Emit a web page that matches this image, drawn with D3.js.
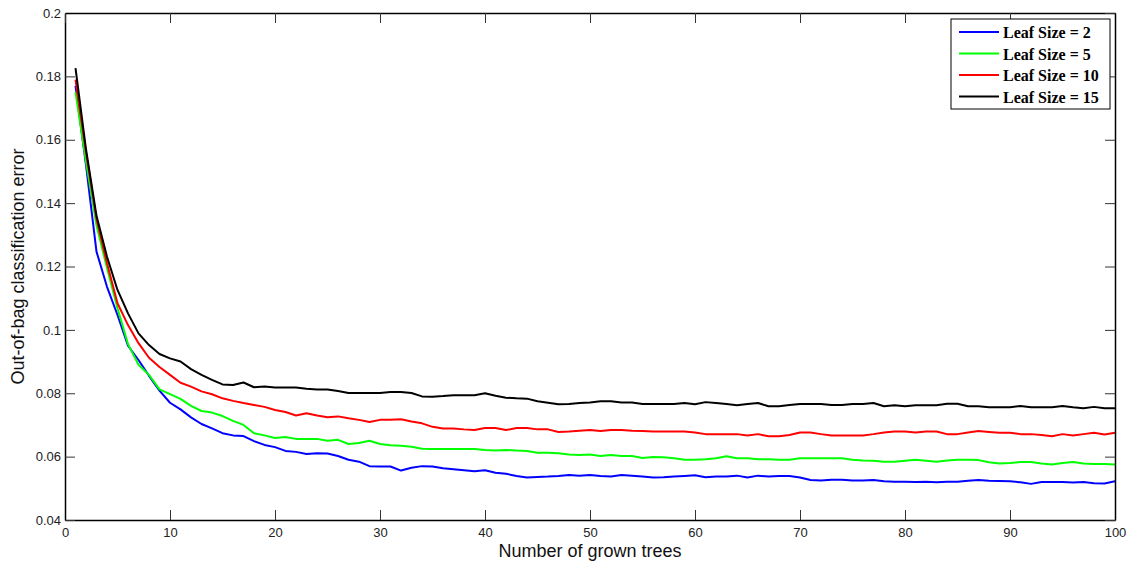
<!DOCTYPE html>
<html>
<head>
<meta charset="utf-8">
<title>Out-of-bag classification error</title>
<script src="https://d3js.org/d3.v7.min.js"></script>
<style>
  body { margin: 0; background: #fff; }
  .tick text { font-family: Arial, "Liberation Sans", sans-serif; font-size: 13px; fill: #222; }
  .axis-label { font-family: Arial, "Liberation Sans", sans-serif; font-size: 18px; fill: #111; }
  .legend text { font-family: "Times New Roman", "Liberation Serif", serif; font-size: 16px; font-weight: bold; }
</style>
</head>
<body>
<svg id="chart"></svg>
<script>
// number of grown trees (x positions)
let trees = d3.range(1, 101);

let leaf2 = [0.177, 0.152, 0.1247, 0.1136, 0.1047, 0.0950, 0.0905, 0.0855, 0.0808, 0.0770,
  0.0749, 0.0724, 0.0703, 0.0689, 0.0674, 0.0667, 0.0665, 0.0649, 0.0637, 0.0630,
  0.0618, 0.0615, 0.0608, 0.0611, 0.0610, 0.0602, 0.0590, 0.0584, 0.0570, 0.0569,
  0.0569, 0.0556, 0.0565, 0.0570, 0.0569, 0.0563, 0.0560, 0.0557, 0.0554, 0.0557,
  0.0549, 0.0546, 0.0539, 0.0534, 0.0536, 0.0537, 0.0539, 0.0542, 0.0540, 0.0542,
  0.0539, 0.0537, 0.0542, 0.0540, 0.0537, 0.0534, 0.0535, 0.0537, 0.0539, 0.0541,
  0.0535, 0.0537, 0.0537, 0.0540, 0.0534, 0.0540, 0.0537, 0.0539, 0.0539, 0.0534,
  0.0526, 0.0525, 0.0527, 0.0527, 0.0525, 0.0525, 0.0526, 0.0522, 0.0521, 0.0521,
  0.0520, 0.0521, 0.0519, 0.0521, 0.0521, 0.0524, 0.0526, 0.0524, 0.0523, 0.0522,
  0.0519, 0.0514, 0.0520, 0.0520, 0.0520, 0.0518, 0.0520, 0.0516, 0.0515, 0.0522];

let leaf5 = [0.175, 0.153, 0.133, 0.1195, 0.1068, 0.0955, 0.0890, 0.0858, 0.0812, 0.0797,
  0.0782, 0.0760, 0.0744, 0.0739, 0.0728, 0.0713, 0.0700, 0.0674, 0.0667, 0.0659,
  0.0662, 0.0656, 0.0656, 0.0656, 0.0650, 0.0653, 0.0640, 0.0643, 0.0650, 0.0640,
  0.0636, 0.0634, 0.0631, 0.0625, 0.0624, 0.0624, 0.0624, 0.0624, 0.0624, 0.0621,
  0.0619, 0.0621, 0.0619, 0.0618, 0.0612, 0.0612, 0.0611, 0.0607, 0.0605, 0.0607,
  0.0602, 0.0605, 0.0602, 0.0602, 0.0596, 0.0599, 0.0598, 0.0595, 0.0590, 0.0590,
  0.0592, 0.0595, 0.0601, 0.0595, 0.0595, 0.0592, 0.0592, 0.0590, 0.0590, 0.0595,
  0.0595, 0.0595, 0.0595, 0.0595, 0.0590, 0.0588, 0.0587, 0.0584, 0.0584, 0.0587,
  0.0590, 0.0587, 0.0584, 0.0588, 0.0590, 0.0590, 0.0589, 0.0582, 0.0578, 0.0580,
  0.0583, 0.0583, 0.0578, 0.0575, 0.0580, 0.0583, 0.0578, 0.0577, 0.0577, 0.0575];

let leaf10 = [0.179, 0.156, 0.135, 0.1210, 0.1084, 0.1015, 0.0958, 0.0912, 0.0883, 0.0858,
  0.0833, 0.0821, 0.0806, 0.0797, 0.0784, 0.0776, 0.0769, 0.0763, 0.0757, 0.0747,
  0.0741, 0.0730, 0.0737, 0.0730, 0.0724, 0.0727, 0.0721, 0.0716, 0.0709, 0.0716,
  0.0716, 0.0718, 0.0711, 0.0705, 0.0694, 0.0689, 0.0689, 0.0686, 0.0684, 0.0690,
  0.0690, 0.0684, 0.0690, 0.0690, 0.0686, 0.0686, 0.0678, 0.0679, 0.0682, 0.0684,
  0.0681, 0.0684, 0.0684, 0.0682, 0.0681, 0.0679, 0.0679, 0.0679, 0.0679, 0.0676,
  0.0671, 0.0671, 0.0671, 0.0671, 0.0667, 0.0671, 0.0664, 0.0664, 0.0668, 0.0676,
  0.0676, 0.0671, 0.0667, 0.0667, 0.0667, 0.0667, 0.0671, 0.0676, 0.0679, 0.0679,
  0.0676, 0.0679, 0.0679, 0.0671, 0.0671, 0.0676, 0.0681, 0.0678, 0.0675, 0.0675,
  0.0671, 0.0671, 0.0668, 0.0664, 0.0671, 0.0667, 0.0671, 0.0675, 0.0670, 0.0675];

let leaf15 = [0.1826, 0.157, 0.136, 0.1231, 0.1126, 0.1052, 0.0989, 0.0952, 0.0924, 0.0910,
  0.0900, 0.0876, 0.0858, 0.0842, 0.0828, 0.0826, 0.0834, 0.0819, 0.0821, 0.0818,
  0.0818, 0.0818, 0.0814, 0.0812, 0.0812, 0.0807, 0.0801, 0.0801, 0.0801, 0.0801,
  0.0804, 0.0804, 0.0801, 0.0790, 0.0789, 0.0791, 0.0794, 0.0794, 0.0794, 0.0800,
  0.0792, 0.0786, 0.0784, 0.0783, 0.0775, 0.0770, 0.0765, 0.0766, 0.0769, 0.0771,
  0.0775, 0.0775, 0.0771, 0.0771, 0.0766, 0.0766, 0.0766, 0.0766, 0.0769, 0.0765,
  0.0772, 0.0769, 0.0766, 0.0762, 0.0766, 0.0769, 0.0759, 0.0759, 0.0763, 0.0766,
  0.0766, 0.0766, 0.0763, 0.0763, 0.0766, 0.0766, 0.0769, 0.0759, 0.0762, 0.0759,
  0.0762, 0.0762, 0.0762, 0.0767, 0.0767, 0.0759, 0.0759, 0.0756, 0.0756, 0.0756,
  0.0760, 0.0756, 0.0756, 0.0756, 0.0760, 0.0756, 0.0753, 0.0757, 0.0753, 0.0753];

let seriesNames = ['Leaf Size = 2', 'Leaf Size = 5', 'Leaf Size = 10', 'Leaf Size = 15'];
let seriesColors = ['#0000ff', '#00ff00', '#ff0000', '#000000'];
let xTicks = [0, 10, 20, 30, 40, 50, 60, 70, 80, 90, 100];
let yTicks = [0.04, 0.06, 0.08, 0.1, 0.12, 0.14, 0.16, 0.18, 0.2];

let width = 1131, height = 564;
let margin = { top: 13, right: 16, bottom: 44, left: 65 };
let plotWidth = width - margin.left - margin.right;
let plotHeight = height - margin.top - margin.bottom;

let svg = d3.select('#chart').attr('width', width).attr('height', height);

let x = d3.scaleLinear().domain([0, 100]).range([0, plotWidth]);
let y = d3.scaleLinear().domain([0.04, 0.2]).range([plotHeight, 0]);

let plot = svg.append('g').attr('transform', translate(margin.left, margin.top));

// lines
let line = d3.line()
  .x((d, i) => x(trees[i]))
  .y(d => y(d));

[leaf2, leaf5, leaf10, leaf15].forEach(function(values, i) {
  plot.append('path')
    .datum(values)
    .attr('fill', 'none')
    .attr('stroke', seriesColors[i])
    .attr('stroke-width', 2)
    .attr('stroke-linejoin', 'round')
    .attr('d', line);
});

// axes, matlab style: ticks point inward on all four sides
let fmtY = d => (d === 0.2 || d === 0.1) ? d3.format('.1f')(d) : d3.format('.2f')(d);

plot.append('g')
  .attr('transform', translate(0, plotHeight))
  .call(d3.axisBottom(x).tickValues(xTicks).tickSizeInner(-10).tickSizeOuter(0).tickPadding(8));

plot.append('g')
  .call(d3.axisLeft(y).tickValues(yTicks).tickFormat(fmtY).tickSizeInner(-10).tickSizeOuter(0).tickPadding(4));

plot.append('g')
  .call(d3.axisTop(x).tickValues(xTicks).tickFormat('').tickSizeInner(-10).tickSizeOuter(0));

plot.append('g')
  .attr('transform', translate(plotWidth, 0))
  .call(d3.axisRight(y).tickValues(yTicks).tickFormat('').tickSizeInner(-10).tickSizeOuter(0));

plot.selectAll('.domain').attr('stroke', '#000').attr('stroke-width', 1.5);
plot.selectAll('.tick line').attr('stroke', '#333');

// axis labels
svg.append('text')
  .attr('class', 'axis-label')
  .attr('x', margin.left + plotWidth / 2)
  .attr('y', 557)
  .attr('text-anchor', 'middle')
  .text('Number of grown trees');

svg.append('text')
  .attr('class', 'axis-label')
  .attr('transform', translate(24, margin.top + plotHeight / 2) + ' rotate(-90)')
  .attr('text-anchor', 'middle')
  .text('Out-of-bag classification error');

// legend
let legend = svg.append('g').attr('class', 'legend');
legend.append('rect')
  .attr('x', 951).attr('y', 19)
  .attr('width', 159).attr('height', 90)
  .attr('fill', '#fff')
  .attr('stroke', '#000')
  .attr('stroke-width', 1);

seriesNames.forEach(function(name, i) {
  let ly = 32 + i * 21.5;
  legend.append('line')
    .attr('x1', 959).attr('x2', 999)
    .attr('y1', ly).attr('y2', ly)
    .attr('stroke', seriesColors[i])
    .attr('stroke-width', 2);
  legend.append('text')
    .attr('x', 1003)
    .attr('y', ly + 6)
    .text(name);
});

function translate(x, y) {
  return 'translate(' + x + ',' + y + ')';
}
</script>
</body>
</html>
